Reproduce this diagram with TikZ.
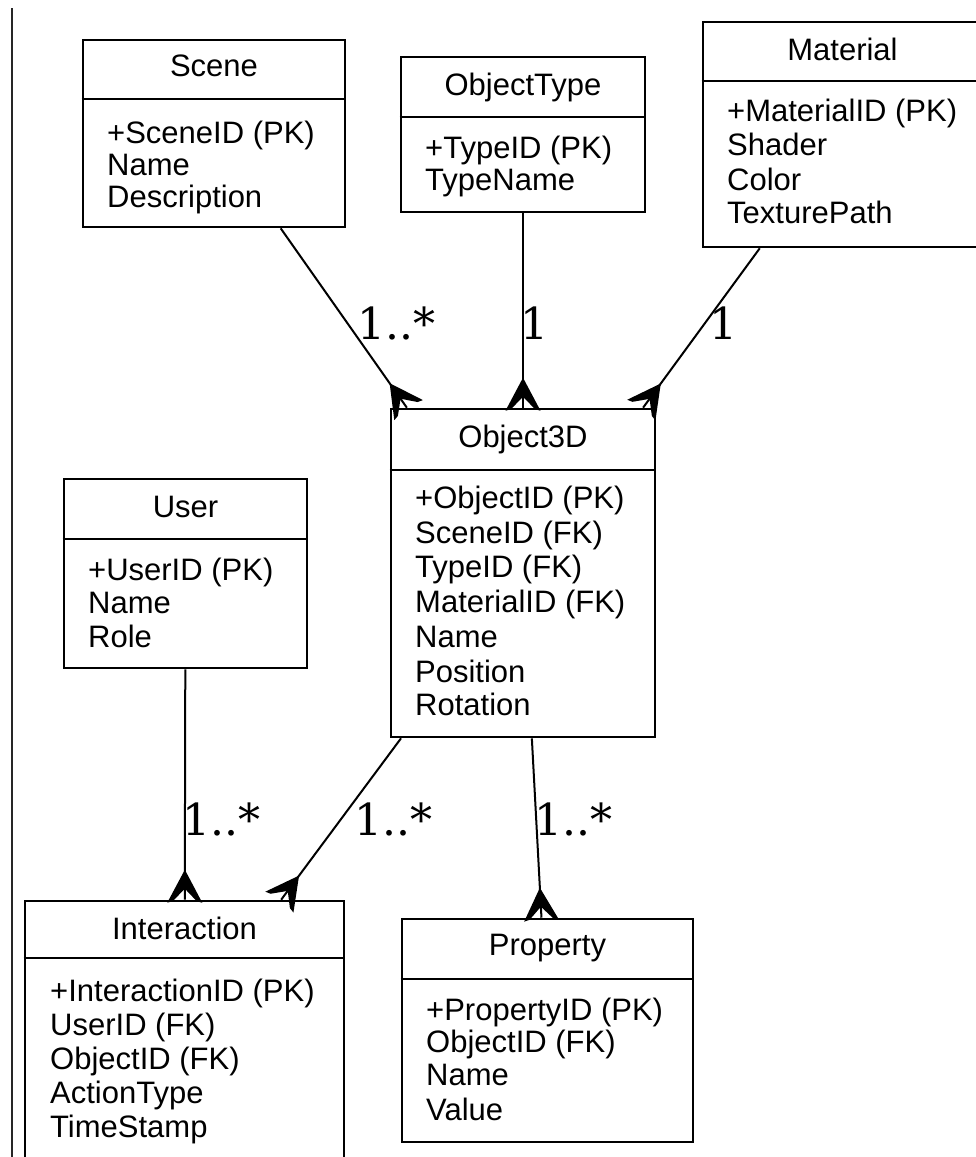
\documentclass[tikz,border=0pt]{standalone}
\usepackage{fontspec}
\setmainfont{Liberation Sans}
\newfontfamily\mulfont{DejaVu Serif}
\usetikzlibrary{fit}

% crow's foot end: prongs open towards the entity, stem runs through to the border
\pgfdeclarearrow{
  name = crowfoot,
  setup code = {
    \pgfarrowssettipend{0pt}
    \pgfarrowssetlineend{0pt}
    \pgfarrowssetbackend{-30pt}
    \pgfarrowshullpoint{-30pt}{0pt}
    \pgfarrowsupperhullpoint{3pt}{17.5pt}
  },
  drawing code = {
    \pgfpathmoveto{\pgfpoint{-30pt}{0pt}}
    \pgfpathlineto{\pgfpoint{3pt}{17.5pt}}
    \pgfpathlineto{\pgfpoint{1.5pt}{12pt}}
    \pgfpathlineto{\pgfpoint{-11pt}{0pt}}
    \pgfpathlineto{\pgfpoint{1.5pt}{-12pt}}
    \pgfpathlineto{\pgfpoint{3pt}{-17.5pt}}
    \pgfpathclose
    \pgfusepathqfill
  }
}

\tikzset{
  entbox/.style={draw, line width=2.6pt, inner sep=0pt},
  divider/.style={line width=2.4pt},
  title/.style={anchor=base, inner sep=0pt, font=\fontsize{31}{34}\selectfont},
  field/.style={anchor=base west, inner sep=0pt, font=\fontsize{31}{34}\selectfont},
  rel/.style={line width=2pt, -crowfoot},
  mult/.style={anchor=base west, inner sep=0pt, font=\mulfont\fontsize{44}{48}\selectfont},
}

\begin{document}
\begin{tikzpicture}[x=1pt, y=-1pt]
\useasboundingbox (0,0) rectangle (976,1157);
\clip (0,0) rectangle (976,1157);

% margin rule on the left
\draw[line width=2pt, black!85] (12,8) -- (12,1160);

% Scene
\node[entbox, fit={(83,40) (345,227)}] (scene) {};
\draw[divider] (scene.west |- 0,99) -- (scene.east |- 0,99);
\node[title] (scene-t) at (scene.center |- 0,76) {Scene};
\foreach \txt/\yy [count=\i] in {+SceneID (PK)/143, Name/175, Description/207}
  \node[field] (scene-f\i) at (107,\yy) {\txt};

% ObjectType
\node[entbox, fit={(401,57) (645,212)}] (otype) {};
\draw[divider] (otype.west |- 0,117) -- (otype.east |- 0,117);
\node[title] (otype-t) at (otype.center |- 0,95) {ObjectType};
\foreach \txt/\yy [count=\i] in {+TypeID (PK)/158, TypeName/190}
  \node[field] (otype-f\i) at (425,\yy) {\txt};

% Material
\node[entbox, fit={(703,22) (982,247)}] (mat) {};
\draw[divider] (mat.west |- 0,81) -- (mat.east |- 0,81);
\node[title] (mat-t) at (mat.center |- 0,60) {Material};
\foreach \txt/\yy [count=\i] in {+MaterialID (PK)/121, Shader/155, Color/190, TexturePath/223}
  \node[field] (mat-f\i) at (727,\yy) {\txt};

% Object3D
\node[entbox, fit={(391,409) (655,737)}] (obj) {};
\draw[divider] (obj.west |- 0,470) -- (obj.east |- 0,470);
\node[title] (obj-t) at (obj.center |- 0,447) {Object3D};
\foreach \txt/\yy [count=\i] in {+ObjectID (PK)/508, SceneID (FK)/543, TypeID (FK)/577,
    MaterialID (FK)/612, Name/647, Position/682, Rotation/715}
  \node[field] (obj-f\i) at (415,\yy) {\txt};

% User
\node[entbox, fit={(64,479) (307,668)}] (user) {};
\draw[divider] (user.west |- 0,539) -- (user.east |- 0,539);
\node[title] (user-t) at (user.center |- 0,517) {User};
\foreach \txt/\yy [count=\i] in {+UserID (PK)/580, Name/613, Role/647}
  \node[field] (user-f\i) at (88,\yy) {\txt};

% Interaction
\node[entbox, fit={(25,901) (344,1162)}] (inter) {};
\draw[divider] (inter.west |- 0,958) -- (inter.east |- 0,958);
\node[title] (inter-t) at (inter.center |- 0,939) {Interaction};
\foreach \txt/\yy [count=\i] in {+InteractionID (PK)/1001, UserID (FK)/1035,
    ObjectID (FK)/1069, ActionType/1103, TimeStamp/1137}
  \node[field] (inter-f\i) at (50,\yy) {\txt};

% Property
\node[entbox, fit={(402,919) (693,1142)}] (prop) {};
\draw[divider] (prop.west |- 0,979) -- (prop.east |- 0,979);
\node[title] (prop-t) at (prop.center |- 0,955) {Property};
\foreach \txt/\yy [count=\i] in {+PropertyID (PK)/1020, ObjectID (FK)/1052, Name/1085, Value/1120}
  \node[field] (prop-f\i) at (426,\yy) {\txt};

% relationships
\draw[rel] (scene) -- (obj);
\draw[rel] (otype) -- (obj);
\draw[rel] (mat) -- (obj);
\draw[rel] (user) -- (inter);
\draw[rel] (obj) -- (inter);
\draw[rel] (obj) -- (prop);

% multiplicities
\node[mult] (m-scene) at (357,339) {1..*};
\node[mult] (m-otype) at (520,339) {1};
\node[mult] (m-mat) at (709,339) {1};
\node[mult] (m-user) at (182,835) {1..*};
\node[mult] (m-inter) at (354,835) {1..*};
\node[mult] (m-prop) at (534,835) {1..*};
\end{tikzpicture}
\end{document}
